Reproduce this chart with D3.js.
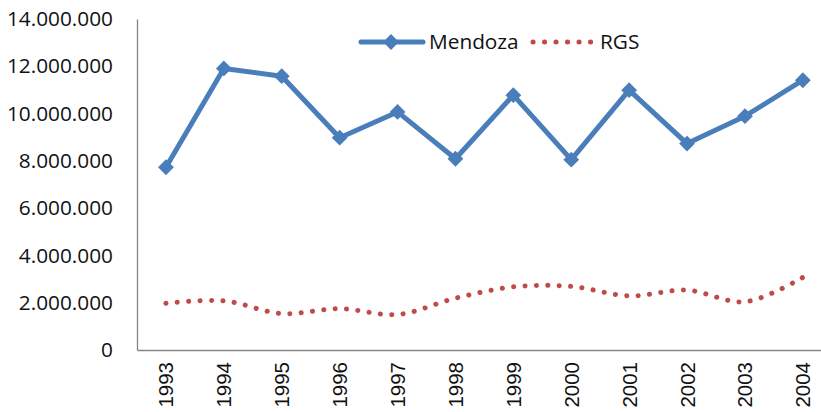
<!DOCTYPE html>
<html><head><meta charset="utf-8">
<script src="https://cdn.jsdelivr.net/npm/d3@7"></script>
<style>body{margin:0;background:#fff}svg{display:block}</style>
</head><body>
<svg id="c" width="821" height="412"></svg>
<script>
const years = ["1993","1994","1995","1996","1997","1998","1999","2000","2001","2002","2003","2004"];
const mendoza = [7730000,11910000,11580000,8980000,10070000,8090000,10780000,8050000,10990000,8730000,9890000,11410000];
const rgs = [1980000,2080000,1540000,1750000,1500000,2190000,2670000,2690000,2290000,2530000,2040000,3070000];
const yTicks = [0,2000000,4000000,6000000,8000000,10000000,12000000,14000000];
const seriesNames = ["Mendoza","RGS"];

(function(){
const svg = d3.select("#c");
const mLeft = 137, mTop = 19, mBottom = 350, step = 57.9;
const x = d3.scaleBand().domain(years).range([mLeft, mLeft + step*years.length]);
const y = d3.scaleLinear().domain([0,14000000]).range([mBottom, mTop]);
const fmt = v => v === 0 ? "0" : d3.format(",")(v).replace(/,/g, ".");
const cx = d => x(d) + x.bandwidth()/2;

// Y axis
const ya = svg.append("g").attr("transform", `translate(${mLeft},0)`)
  .call(d3.axisLeft(y).tickValues(yTicks).tickFormat(fmt).tickSize(0).tickPadding(24));
ya.select(".domain").attr("stroke", "#868686").attr("stroke-width", 1.3);
ya.selectAll("text").attr("font-family", "Open Sans").attr("font-size", 20.8).attr("fill", "#111");

// X axis
const xa = svg.append("g").attr("transform", `translate(0,${mBottom})`)
  .call(d3.axisBottom(x).tickSize(0).tickPadding(0));
xa.select(".domain").attr("stroke", "#868686").attr("stroke-width", 1.3);
xa.selectAll("text").attr("font-family", "Liberation Sans").attr("font-size", 20.5).attr("fill", "#111")
  .attr("text-anchor", "end").attr("dy", null).attr("y", null)
  .attr("transform", "translate(7.5,12) rotate(-90)");

// RGS smoothed dotted
const lineR = d3.line().x((d,i) => cx(years[i])).y(d => y(d)).curve(d3.curveCatmullRom.alpha(0.5));
svg.append("path").datum(rgs).attr("d", lineR).attr("fill", "none")
  .attr("stroke", "#be4b48").attr("stroke-width", 5).attr("stroke-linecap", "round")
  .attr("stroke-dasharray", "0.1 11.3");

// Mendoza
const lineM = d3.line().x((d,i) => cx(years[i])).y(d => y(d));
svg.append("path").datum(mendoza).attr("d", lineM).attr("fill", "none")
  .attr("stroke", "#4a7ebb").attr("stroke-width", 5).attr("stroke-linejoin", "round");
const diamond = d3.symbol().type(d3.symbolSquare).size(125);
svg.selectAll(".mk").data(mendoza).join("path").attr("class","mk")
  .attr("d", diamond())
  .attr("transform", (d,i) => `translate(${cx(years[i])},${y(d)}) rotate(45)`)
  .attr("fill", "#4a7ebb");

// Legend
const lg = svg.append("g");
lg.append("line").attr("x1", 361).attr("x2", 423).attr("y1", 42).attr("y2", 42)
  .attr("stroke", "#4a7ebb").attr("stroke-width", 5).attr("stroke-linecap", "round");
lg.append("path").attr("d", diamond()).attr("transform", "translate(391,42) rotate(45)").attr("fill", "#4a7ebb");
lg.append("text").attr("x", 429).attr("y", 49).text(seriesNames[0])
  .attr("font-family", "Open Sans").attr("font-size", 20.8).attr("fill", "#111");
lg.append("line").attr("x1", 533).attr("x2", 591).attr("y1", 42).attr("y2", 42)
  .attr("stroke", "#be4b48").attr("stroke-width", 5).attr("stroke-linecap", "round")
  .attr("stroke-dasharray", "0.1 11.4");
lg.append("text").attr("x", 600).attr("y", 49).text(seriesNames[1])
  .attr("font-family", "Open Sans").attr("font-size", 20.8).attr("fill", "#111");
})();
</script>
</body></html>
